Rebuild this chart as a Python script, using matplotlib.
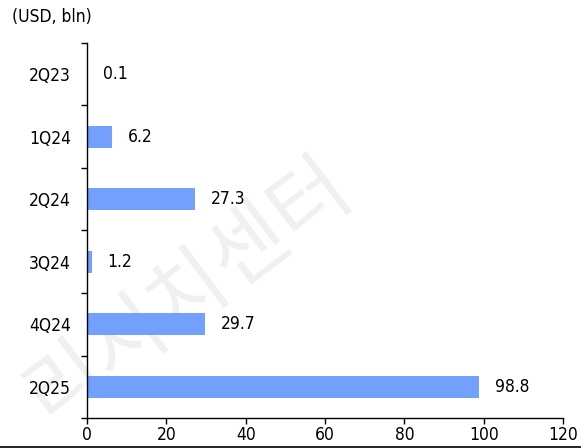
import numpy as np
import matplotlib.pyplot as plt
from matplotlib.lines import Line2D

categories = ['2Q23', '1Q24', '2Q24', '3Q24', '4Q24', '2Q25']
values = [0.1, 6.2, 27.3, 1.2, 29.7, 98.8]
xticks = [0, 20, 40, 60, 80, 100, 120]

plt.rcParams['font.family'] = ['DejaVu Sans']
plt.rcParams['font.stretch'] = 'condensed'

fig = plt.figure(figsize=(5.81, 4.48), dpi=100)
ax = fig.add_axes([87 / 581, 30 / 448, 476 / 581, 375 / 448])
ax.set_zorder(2)
ax.patch.set_alpha(0)

# watermark behind everything
fig.text(188 / 581, 1 - 290 / 448, '리서치센터', family=['Noto Sans CJK KR'],
         fontsize=60, fontweight='light', color='#f0f0f0', rotation=37,
         ha='center', va='center', zorder=0)

y = np.arange(len(categories))
ax.barh(y, values, height=0.35, color='#74a0fd', zorder=2)
for yi, v in zip(y, values):
    ax.annotate('{:.1f}'.format(v), (v, yi), xytext=(11.5, 0),
                textcoords='offset points', va='center', ha='left',
                fontsize=12.5)

ax.set_ylim(len(categories) - 0.5, -0.5)
ax.set_yticks(y)
ax.set_yticklabels(categories, fontsize=12.5)
ax.set_yticks(np.arange(-0.5, len(categories)), minor=True)
ax.tick_params(axis='y', which='major', length=0, pad=11.5)
ax.tick_params(axis='y', which='minor', length=4, width=1, direction='out')
ax.set_xlim(0, 120)
ax.set_xticks(xticks)
ax.set_xticklabels([str(t) for t in xticks], fontsize=12.5)
ax.tick_params(axis='x', length=4, width=1, direction='out', pad=2)

for s in ['top', 'right']:
    ax.spines[s].set_visible(False)
for s in ['left', 'bottom']:
    ax.spines[s].set_linewidth(1)

fig.text(12 / 581, 1 - 17 / 448, '(USD, bln)', fontsize=12.5, va='center', ha='left')
fig.add_artist(Line2D([0, 1], [1.5 / 448, 1.5 / 448], color='black', lw=1.2,
                      transform=fig.transFigure))

plt.savefig('out.png', dpi=100)
